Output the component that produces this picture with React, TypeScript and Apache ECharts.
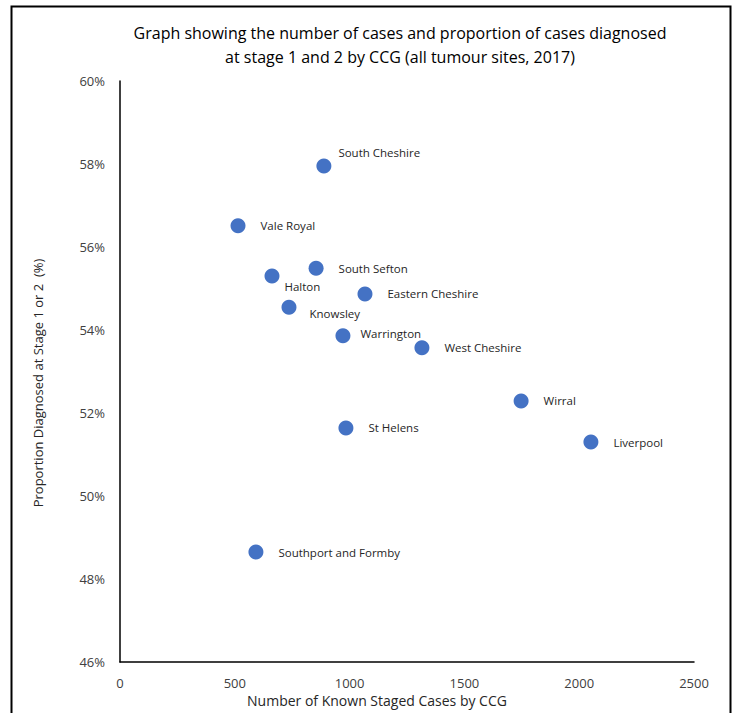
import React, { useEffect, useRef } from "react";
import * as echarts from "echarts";

const names = [
  "South Cheshire",
  "Vale Royal",
  "South Sefton",
  "Halton",
  "Eastern Cheshire",
  "Knowsley",
  "Warrington",
  "West Cheshire",
  "Wirral",
  "St Helens",
  "Liverpool",
  "Southport and Formby",
];
const cases = [888, 514, 854, 662, 1067, 736, 971, 1315, 1747, 984, 2051, 592];
const proportions = [57.95, 56.51, 55.49, 55.3, 54.87, 54.55, 53.86, 53.57, 52.29, 51.64, 51.3, 48.65];
const labelOffsets: Record<string, number[]> = {
  "South Cheshire": [-8, -14],
  Halton: [-10, 10],
  Knowsley: [-2, 6],
  Warrington: [-5, -2],
};

const FONT = "'Open Sans', sans-serif";

export default function App() {
  const ref = useRef<HTMLDivElement>(null);
  useEffect(() => {
    document.body.style.margin = "0";
    const chart = echarts.init(ref.current!, null, { renderer: "svg" });
    const data = names.map((n, i) => ({
      name: n,
      value: [cases[i], proportions[i]],
      label: labelOffsets[n] ? { offset: labelOffsets[n] } : undefined,
    }));
    chart.setOption({
      animation: false,
      backgroundColor: "#ffffff",
      textStyle: { fontFamily: FONT },
      grid: { left: 120, right: 40, top: 81, bottom: 51, containLabel: false },
      xAxis: {
        type: "value",
        min: 0,
        max: 2500,
        interval: 500,
        axisLine: { show: true, lineStyle: { color: "#000000", width: 1.5 } },
        axisTick: { show: false },
        splitLine: { show: false },
        axisLabel: {
          color: "#404040",
          fontSize: 13,
          fontFamily: FONT,
          margin: 14,
          formatter: (v: number) => String(v),
        },
      },
      yAxis: {
        type: "value",
        min: 46,
        max: 60,
        interval: 2,
        axisLine: { show: true, lineStyle: { color: "#000000", width: 1.5 } },
        axisTick: { show: false },
        splitLine: { show: false },
        axisLabel: {
          color: "#404040",
          fontSize: 13,
          fontFamily: FONT,
          margin: 15,
          formatter: (v: number) => v + "%",
        },
      },
      series: [
        {
          type: "scatter",
          symbolSize: 15,
          itemStyle: { color: "#4472C4", opacity: 1 },
          data,
          label: {
            show: true,
            position: "right",
            distance: 15,
            formatter: (p: any) => p.name,
            color: "#262626",
            fontSize: 11.5,
            fontFamily: FONT,
          },
        },
      ],
      graphic: [
        {
          type: "rect",
          shape: { x: 11.5, y: 6.5, width: 719, height: 720 },
          style: { fill: "none", stroke: "#000000", lineWidth: 2 },
          silent: true,
        },
        {
          type: "text",
          x: 400,
          y: 45,
          style: {
            text: "Graph showing the number of cases and proportion of cases diagnosed\nat stage 1 and 2 by CCG (all tumour sites, 2017)",
            textAlign: "center",
            textVerticalAlign: "middle",
            fontSize: 16,
            lineHeight: 24,
            fontFamily: FONT,
            fill: "#000000",
          },
        },
        {
          type: "text",
          x: 377,
          y: 700,
          style: {
            text: "Number of Known Staged Cases by CCG",
            textAlign: "center",
            textVerticalAlign: "middle",
            fontSize: 14,
            fontFamily: FONT,
            fill: "#262626",
          },
        },
        {
          type: "text",
          x: 38,
          y: 383,
          rotation: Math.PI / 2,
          style: {
            text: "Proportion Diagnosed at Stage 1 or 2  (%)",
            textAlign: "center",
            textVerticalAlign: "middle",
            fontSize: 13,
            fontFamily: FONT,
            fill: "#262626",
          },
        },
      ],
    });
    return () => chart.dispose();
  }, []);
  return <div ref={ref} style={{ width: 734, height: 713 }} />;
}
